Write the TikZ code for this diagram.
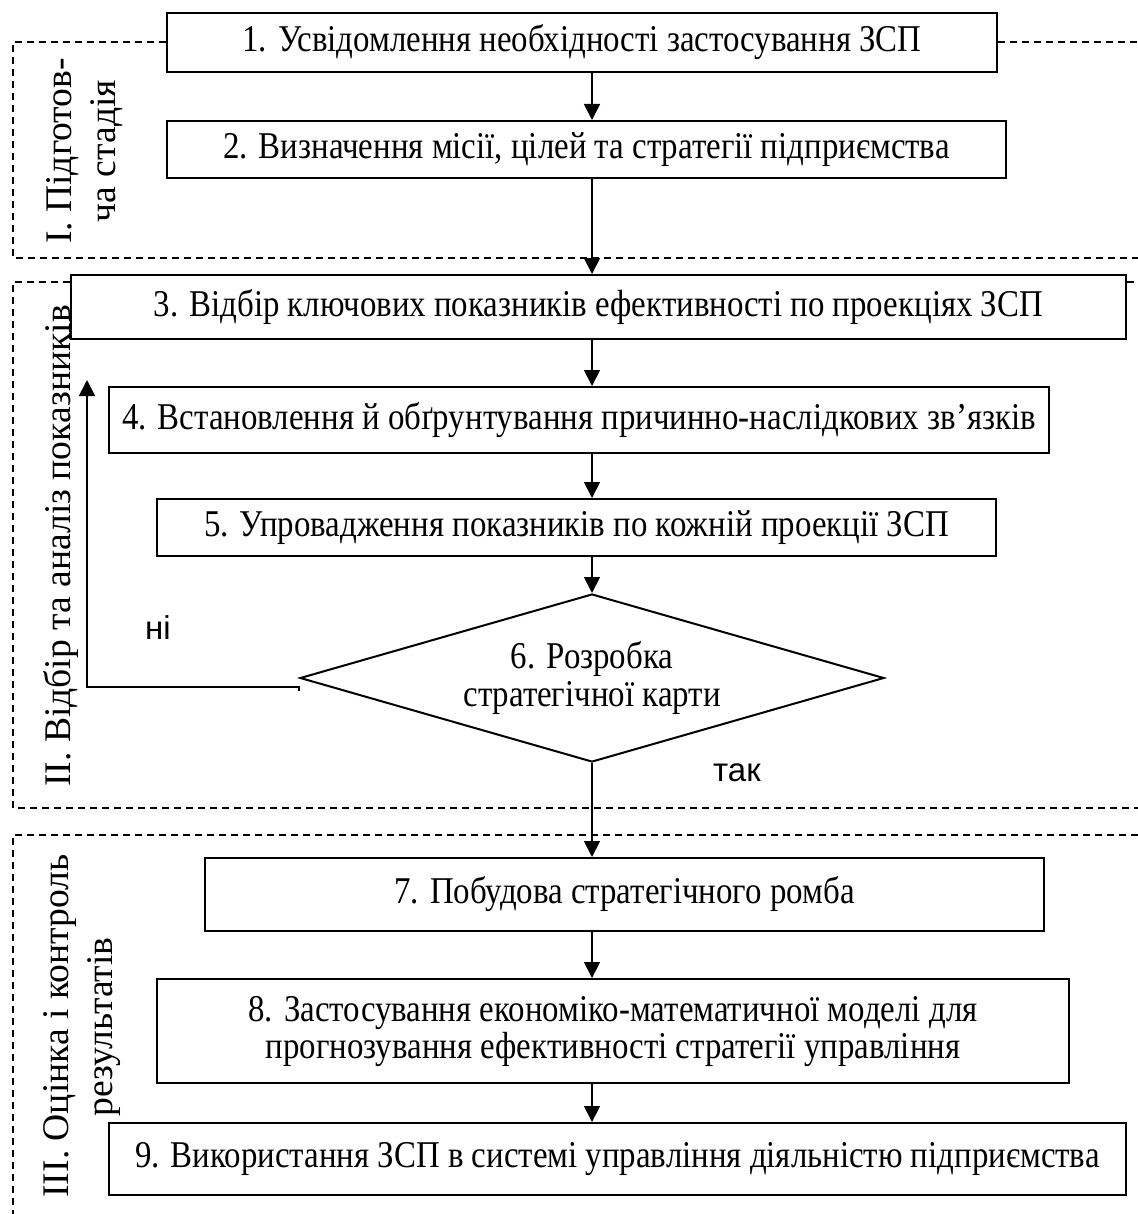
\documentclass[tikz,border=0pt]{standalone}
\usepackage{fontspec}
\setmainfont{Liberation Serif}
\newfontfamily\boxfont{Liberation Serif}[FakeStretch=0.87]
\newfontfamily\labsans{Liberation Sans}
\usetikzlibrary{arrows.meta,shapes.geometric,calc}
\begin{document}
\begin{tikzpicture}[x=0.5pt,y=-0.5pt,
  box/.style={draw,line width=1pt,inner sep=0pt,align=center,font=\boxfont\fontsize{18.9}{18.5}\selectfont},
  dia/.style={draw,diamond,shape aspect=3.5,line width=1pt,inner sep=0pt,align=center,font=\boxfont\fontsize{18.9}{19}\selectfont},
  dsh/.style={dash pattern=on 3.5pt off 2.5pt,line width=0.9pt},
  arr/.style={-{Triangle[length=8pt,width=8pt]},line width=0.9pt},
  side/.style={rotate=90,anchor=base,inner sep=0pt,font=\fontsize{18.8}{22}\selectfont},
  lab/.style={inner sep=0pt,font=\labsans\fontsize{16.5}{19}\selectfont}]
\useasboundingbox (0,0) rectangle (1138,1214);
\coordinate (sp) at (592,0);
% boxes
\node[box,minimum width=415pt,minimum height=29.5pt] (b1) at (582,42.5) {1. Усвідомлення необхідності застосування ЗСП};
\node[box,minimum width=419.5pt,minimum height=28.5pt] (b2) at (586.5,149.5) {2. Визначення місії, цілей та стратегії підприємства};
\node[box,minimum width=527.5pt,minimum height=32pt] (b3) at (598.5,307) {3. Відбір ключових показників ефективності по проекціях ЗСП};
\node[box,minimum width=470pt,minimum height=33pt] (b4) at (579,420) {4. Встановлення й обґрунтування причинно-наслідкових зв’язків};
\node[box,minimum width=419.5pt,minimum height=28.5pt] (b5) at (576.5,527.5) {5. Упровадження показників по кожній проекції ЗСП};
\node[dia,minimum width=292pt,minimum height=84pt] (d) at (592,678) {6. Розробка\\стратегічної карти};
\node[box,minimum width=419.5pt,minimum height=36.5pt] (b7) at (624.5,894.5) {7. Побудова стратегічного ромба};
\node[box,minimum width=456pt,minimum height=52pt] (b8) at (613,1031) {8. Застосування економіко-математичної моделі для\\прогнозування ефективності стратегії управління};
\node[box,minimum width=508.5pt,minimum height=36pt] (b9) at (617.5,1159) {9. Використання ЗСП в системі управління діяльністю підприємства};
% spine arrows
\draw[arr] (b1.south -| sp) -- (b2.north -| sp);
\draw[arr] (b2.south -| sp) -- (b3.north -| sp);
\draw[arr] (b3.south -| sp) -- (b4.north -| sp);
\draw[arr] (b4.south -| sp) -- (b5.north -| sp);
\draw[arr] (b5.south -| sp) -- (d.north);
\draw[arr] (d.south) -- (b7.north -| sp);
\draw[arr] (b7.south -| sp) -- (b8.north -| sp);
\draw[arr] (b8.south -| sp) -- (b9.north -| sp);
% loop "ні"
\coordinate (n0) at ($(d.west)+(0,9)$);
\coordinate (n1) at (87,687);
\coordinate (n2) at (87,380);
\draw[arr] ($(n0)+(0,4)$) -- (n0) -- (n1) -- (n2);
\node[lab] (ni) at (158,628) {ні};
\node[lab] (tak) at (737,773) {так};
% stage regions
\draw[dsh] (b1.west |- 0,42) -- (13,42) -- (13,258) -- (1138,258);
\draw[dsh] (b1.east |- 0,42) -- (1138,42);
\draw[dsh] (b3.west |- 0,282) -- (13,282) -- (13,808) -- (1138,808);
\draw[dsh] (b3.east |- 0,282) -- (1138,282);
\draw[dsh] (1138,835) -- (13,835) -- (13,1214);
% stage labels
\node[side] (s1a) at (71,151) {I. Підготов-};
\node[side] (s1b) at (115,151) {ча стадія};
\node[side] (s2) at (70,546) {II. Відбір та аналіз показників};
\node[side] (s3a) at (68,1026) {III. Оцінка і контроль};
\node[side] (s3b) at (112,1027) {результатів};
\end{tikzpicture}
\end{document}
